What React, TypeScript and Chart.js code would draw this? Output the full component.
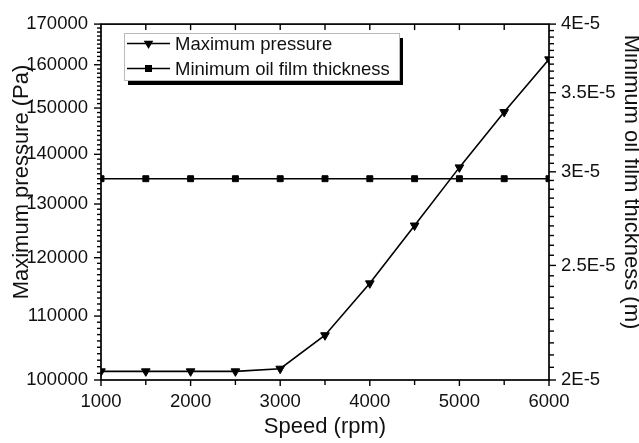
import React, { useEffect, useRef } from "react";
import { Chart, registerables } from "chart.js";

Chart.register(...registerables);

// Measured operating points
const speedRpm = [1000, 1500, 2000, 2500, 3000, 3500, 4000, 4500, 5000, 5500, 6000];
const maxPressurePa = [101300, 101300, 101300, 101300, 101700, 106900, 115500, 125900, 137300, 149100, 161300];
const minFilmThicknessM = [
  2.96e-5, 2.96e-5, 2.96e-5, 2.96e-5, 2.96e-5, 2.96e-5, 2.96e-5, 2.96e-5, 2.96e-5, 2.96e-5, 2.96e-5,
];

// Axis tick values and labels
const speedTicks = [1000, 2000, 3000, 4000, 5000, 6000];
const pressureTicks = [100000, 110000, 120000, 130000, 140000, 150000, 160000, 170000];
const thicknessTicks = [2e-5, 2.5e-5, 3e-5, 3.5e-5, 4e-5];
const thicknessTickLabels = ["2E-5", "2.5E-5", "3E-5", "3.5E-5", "4E-5"];

const seriesLabels = ["Maximum pressure", "Minimum oil film thickness"];
const xTitle = "Speed (rpm)";
const yTitle = "Maximum pressure (Pa)";
const y1Title = "Minimum oil film thickness (m)";

const FONT = '"Liberation Sans", Arial, Helvetica, sans-serif';
const INK = "#111";

function drawMarker(ctx: CanvasRenderingContext2D, kind: string, cx: number, cy: number) {
  ctx.beginPath();
  if (kind === "triangle") {
    const r = 5.5;
    ctx.moveTo(cx - r * 0.866, cy - r * 0.5);
    ctx.lineTo(cx + r * 0.866, cy - r * 0.5);
    ctx.lineTo(cx, cy + r);
    ctx.closePath();
  } else {
    const h = 3.5;
    ctx.rect(cx - h, cy - h, 2 * h, 2 * h);
  }
  ctx.fill();
}

const decorPlugin = {
  id: "decor",
  afterDraw(chart: any) {
    const { ctx, chartArea: a, scales } = chart;
    const xs = scales.x;
    const ys = scales.y;
    const ys1 = scales.y1;
    ctx.save();

    // frame
    ctx.strokeStyle = "#000";
    ctx.lineWidth = 1.7;
    ctx.strokeRect(a.left, a.top, a.right - a.left, a.bottom - a.top);

    const seg = (x1: number, y1: number, x2: number, y2: number) => {
      ctx.beginPath();
      ctx.moveTo(x1, y1);
      ctx.lineTo(x2, y2);
      ctx.stroke();
    };

    // bottom (outward) and top (inward) ticks
    ctx.lineWidth = 1.4;
    for (let v = 1000; v <= 6000; v += 500) {
      const px = xs.getPixelForValue(v);
      const major = v % 1000 === 0;
      seg(px, a.bottom, px, a.bottom + (major ? 6 : 5));
      if (v > 1000 && v < 6000) seg(px, a.top, px, a.top + 6);
    }

    // left log axis ticks
    for (let v = 100000; v <= 170000; v += 1000) {
      const py = ys.getPixelForValue(v);
      const major = v % 10000 === 0;
      seg(a.left - (major ? 7 : 4), py, a.left, py);
    }

    // right log axis ticks
    for (let i = 40; i <= 80; i++) {
      const py = ys1.getPixelForValue(i * 5e-7);
      const major = i % 10 === 0;
      seg(a.right, py, a.right + (major ? 7 : 5), py);
    }

    // axis titles
    ctx.fillStyle = INK;
    ctx.font = `22px ${FONT}`;
    ctx.textAlign = "center";
    ctx.textBaseline = "alphabetic";
    ctx.fillText(xTitle, (a.left + a.right) / 2, 433);

    ctx.save();
    ctx.translate(27.5, 182);
    ctx.rotate(-Math.PI / 2);
    ctx.fillText(yTitle, 0, 0);
    ctx.restore();

    ctx.save();
    ctx.translate(624.5, 182);
    ctx.rotate(Math.PI / 2);
    ctx.fillText(y1Title, 0, 0);
    ctx.restore();

    // legend box with drop shadow
    const lx = 124, ly = 33, lw = 275, lh = 47;
    ctx.fillStyle = "#000";
    ctx.fillRect(lx + 4, ly + 5, lw, lh);
    ctx.fillStyle = "#fff";
    ctx.fillRect(lx, ly, lw, lh);
    ctx.strokeStyle = "#bbb";
    ctx.lineWidth = 1;
    ctx.strokeRect(lx + 0.5, ly + 0.5, lw, lh);

    const kinds = ["triangle", "rect"];
    const rows = [43.5, 68.5];
    ctx.font = `18.5px ${FONT}`;
    ctx.textAlign = "left";
    ctx.textBaseline = "middle";
    chart.data.datasets.forEach((ds: any, i: number) => {
      const cy = rows[i];
      ctx.strokeStyle = "#000";
      ctx.lineWidth = 1.6;
      seg(127, cy, 170, cy);
      ctx.fillStyle = "#000";
      drawMarker(ctx, kinds[i], 148.5, cy);
      ctx.fillStyle = INK;
      ctx.fillText(ds.label, 175, cy + 1);
    });

    ctx.restore();
  },
};

export default function App() {
  const canvasRef = useRef<HTMLCanvasElement | null>(null);

  useEffect(() => {
    const canvas = canvasRef.current;
    if (!canvas) return;

    const tickFont = { family: FONT, size: 18.5 };
    const noGrid = { display: false, drawTicks: false };

    const chart = new Chart(canvas, {
      type: "line",
      data: {
        datasets: [
          {
            label: seriesLabels[0],
            data: speedRpm.map((s, i) => ({ x: s, y: maxPressurePa[i] })),
            yAxisID: "y",
            borderColor: "#000",
            backgroundColor: "#000",
            borderWidth: 1.6,
            pointStyle: "triangle",
            rotation: 180,
            pointRadius: 5,
            pointBorderWidth: 1,
            pointBorderColor: "#000",
            pointBackgroundColor: "#000",
            tension: 0,
          },
          {
            label: seriesLabels[1],
            data: speedRpm.map((s, i) => ({ x: s, y: minFilmThicknessM[i] })),
            yAxisID: "y1",
            borderColor: "#000",
            backgroundColor: "#000",
            borderWidth: 1.6,
            pointStyle: "rect",
            pointRadius: 4.2,
            pointBorderWidth: 1,
            pointBorderColor: "#000",
            pointBackgroundColor: "#000",
            tension: 0,
          },
        ],
      },
      options: {
        animation: false,
        responsive: false,
        events: [],
        layout: { padding: { top: 16, left: 0, right: 0, bottom: 0 } },
        plugins: {
          legend: { display: false },
          tooltip: { enabled: false },
          title: { display: false },
        },
        scales: {
          x: {
            type: "linear",
            min: 1000,
            max: 6000,
            grid: noGrid,
            border: { display: false },
            afterBuildTicks: (s: any) => {
              s.ticks = speedTicks.map((v) => ({ value: v }));
            },
            afterFit: (s: any) => {
              s.height = 63;
            },
            ticks: {
              font: tickFont,
              color: INK,
              padding: 11,
              maxRotation: 0,
              callback: (v: any) => String(v),
            },
          },
          y: {
            type: "logarithmic",
            position: "left",
            min: 100000,
            max: 170000,
            grid: noGrid,
            border: { display: false },
            afterBuildTicks: (s: any) => {
              s.ticks = pressureTicks.map((v) => ({ value: v }));
            },
            afterFit: (s: any) => {
              s.width = 101;
            },
            ticks: {
              font: tickFont,
              color: INK,
              padding: 13,
              callback: (v: any) => String(v),
            },
          },
          y1: {
            type: "logarithmic",
            position: "right",
            min: 2e-5,
            max: 4e-5,
            grid: noGrid,
            border: { display: false },
            afterBuildTicks: (s: any) => {
              s.ticks = thicknessTicks.map((v) => ({ value: v }));
            },
            afterFit: (s: any) => {
              s.width = 90;
            },
            ticks: {
              font: tickFont,
              color: INK,
              padding: 12,
              callback: (_v: any, i: number) => thicknessTickLabels[i],
            },
          },
        },
      },
      plugins: [decorPlugin],
    } as any);

    return () => chart.destroy();
  }, []);

  return (
    <div style={{ position: "fixed", left: 0, top: 0, width: 639, height: 443, background: "#fff" }}>
      <canvas ref={canvasRef} width={639} height={443} />
    </div>
  );
}
